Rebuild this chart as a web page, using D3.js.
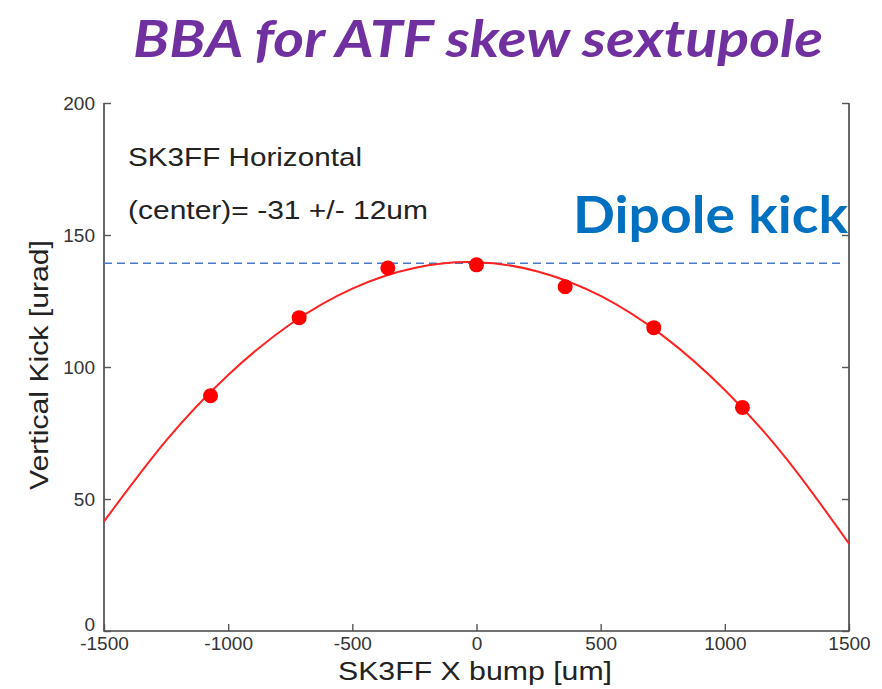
<!DOCTYPE html>
<html lang="en">
<head>
<meta charset="UTF-8">
<title>BBA for ATF skew sextupole</title>
<script src="https://d3js.org/d3.v7.min.js"></script>
<style>
    body { margin: 0; background: #ffffff; }
    svg { display: block; }
    .tick text { font-family: "Liberation Sans", Arial, sans-serif; font-size: 19px; fill: #333; }
</style>
</head>
<body>
<svg id="chart" width="882" height="689"></svg>
<script>
// measured points: bump position [um] and vertical kick [urad]
const bumpX = [-1071, -714, -357, 0, 357, 714, 1071];
const kickY = [89.1, 118.7, 137.5, 138.7, 130.4, 114.9, 84.7];

// fitted curve, every 250 um
const fitX = [-1500, -1250, -1000, -750, -500, -250, 0, 250, 500, 750, 1000, 1250, 1500];
const fitY = [41.5, 72.1, 97.0, 116.2, 129.7, 137.5, 139.7, 136.1, 126.9, 111.9, 91.3, 65.0, 33.1];

const dipoleKick = 139.3;
const xTicks = [-1500, -1000, -500, 0, 500, 1000, 1500];
const yTicks = [0, 50, 100, 150, 200];

const svg = d3.select("#chart");
const mLeft = 104, mRight = 849, mTop = 103, mBottom = 631;

const x = d3.scaleLinear().domain([-1500, 1500]).range([mLeft, mRight]);
const y = d3.scaleLinear().domain([0, 200]).range([mBottom, mTop]);

// title
svg.append("text")
    .attr("x", 133).attr("y", 57)
    .attr("textLength", 690).attr("lengthAdjust", "spacingAndGlyphs")
    .style("font-family", "Lato, 'Open Sans', sans-serif")
    .style("font-weight", "bold").style("font-style", "italic")
    .style("font-size", "52px").style("fill", "#7030a0")
    .text("BBA for ATF skew sextupole");

// frame + ticks (inward)
svg.append("path")
    .attr("d", `M${mLeft},${mTop}V${mBottom}H${mRight}V${mTop}`)
    .attr("fill", "none").attr("stroke", "#444").attr("stroke-width", 1.6);

const fmt = d => String(d);
const xAxis = svg.append("g")
    .attr("transform", `translate(0,${mBottom})`)
    .call(d3.axisBottom(x).tickValues(xTicks).tickSize(-7).tickPadding(6).tickFormat(fmt));
const yAxis = svg.append("g")
    .attr("transform", `translate(${mLeft},0)`)
    .call(d3.axisLeft(y).tickValues(yTicks).tickSize(-7).tickPadding(9).tickFormat(fmt));
const yAxisR = svg.append("g")
    .attr("transform", `translate(${mRight},0)`)
    .call(d3.axisRight(y).tickValues(yTicks).tickSize(-7).tickFormat(""));
[xAxis, yAxis, yAxisR].forEach(a => {
    a.select(".domain").remove();
    a.selectAll(".tick line").attr("stroke", "#555").attr("stroke-width", 1.4);
});
// the "0" label sits a little higher, as in the original
yAxis.selectAll(".tick text").filter(d => d === 0).attr("dy", "-0.05em");

// dipole kick reference
svg.append("line")
    .attr("x1", x(-1500)).attr("x2", x(1480))
    .attr("y1", y(dipoleKick)).attr("y2", y(dipoleKick))
    .attr("stroke", "#4a78cc").attr("stroke-width", 1.3)
    .attr("stroke-dasharray", "8,5");

// fit curve
const line = d3.line().x((d, i) => x(fitX[i])).y(d => y(d)).curve(d3.curveNatural);
svg.append("path")
    .attr("d", line(fitY))
    .attr("fill", "none").attr("stroke", "#ff2222").attr("stroke-width", 2);

// data points
svg.append("g").selectAll("circle")
    .data(kickY)
    .enter().append("circle")
    .attr("cx", (d, i) => x(bumpX[i]))
    .attr("cy", d => y(d))
    .attr("r", 7.5)
    .attr("fill", "#ff0000");

// annotations
const ann = svg.append("g")
    .style("font-family", "'Liberation Sans', Arial, sans-serif")
    .style("font-size", "25px").style("fill", "#222");
ann.append("text").attr("x", 128).attr("y", 166)
    .attr("textLength", 234).attr("lengthAdjust", "spacingAndGlyphs")
    .text("SK3FF Horizontal");
ann.append("text").attr("x", 128).attr("y", 219)
    .attr("textLength", 300).attr("lengthAdjust", "spacingAndGlyphs")
    .text("(center)= -31 +/- 12um");

svg.append("text")
    .attr("x", 573).attr("y", 233)
    .attr("textLength", 275).attr("lengthAdjust", "spacingAndGlyphs")
    .style("font-family", "Lato, 'Open Sans', sans-serif")
    .style("font-weight", "bold").style("font-size", "52px")
    .style("fill", "#0070c0")
    .text("Dipole kick");

// axis labels
svg.append("text")
    .attr("x", 338).attr("y", 680)
    .attr("textLength", 274).attr("lengthAdjust", "spacingAndGlyphs")
    .style("font-family", "'Liberation Sans', Arial, sans-serif")
    .style("font-size", "26px").style("fill", "#222")
    .text("SK3FF X bump [um]");

svg.append("text")
    .attr("transform", `translate(48,490) rotate(-90)`)
    .attr("textLength", 250).attr("lengthAdjust", "spacingAndGlyphs")
    .style("font-family", "'Liberation Sans', Arial, sans-serif")
    .style("font-size", "26px").style("fill", "#222")
    .text("Vertical Kick [urad]");
</script>
</body>
</html>
